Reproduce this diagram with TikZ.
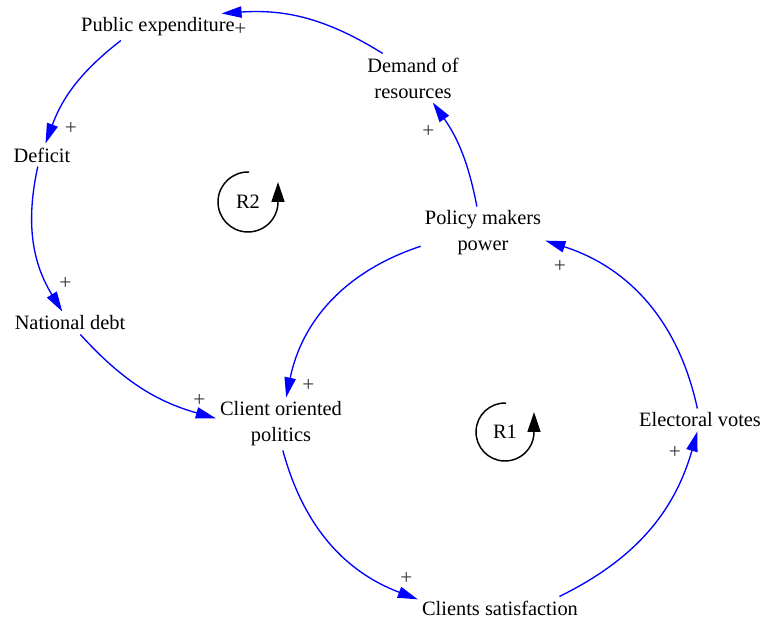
\documentclass[tikz,border=0pt]{standalone}
\usepackage{fontspec}
\setmainfont{Liberation Serif}
\usetikzlibrary{arrows.meta}

\begin{document}
\begin{tikzpicture}[x=0.75pt,y=0.75pt,
  var/.style={font=\fontsize{15.3}{19.5}\selectfont, inner sep=3pt, align=center},
  pol/.style={font=\fontsize{16}{19.5}\selectfont, text=black!80, inner sep=0pt},
  link/.style={blue, line width=1pt, -{Triangle[length=15pt,width=8.5pt]}},
  loopmark/.style={black, line width=1.1pt, -{Triangle[length=15pt,width=9.75pt]}}]
\useasboundingbox (0,0) rectangle (762,620);
% variables
\node[var] (pubexp) at (158,593) {Public expenditure};
\node[var] (demand) at (413,542) {Demand of\\resources};
\node[var] (deficit) at (42,465) {Deficit};
\node[var] (natdebt) at (70,297) {National debt};
\node[var] (client) at (281,196) {Client oriented\\politics};
\node[var] (policy) at (483,387) {Policy makers\\power};
\node[var] (electoral) at (700,200) {Electoral votes};
\node[var] (satisf) at (500,12) {Clients satisfaction};
% links
\draw[link] (demand.141) to[bend right=18] (pubexp.12);
\draw[link] (pubexp.-160) to[bend right=16] (deficit.73);
\draw[link] (deficit.-110) to[bend right=22] (natdebt.124);
\draw[link] (natdebt.-48) to[bend right=16] (client.175);
\draw[link] (policy.-168) to[bend right=30] (client.79);
\draw[link] (client.-86) to[bend right=27] (satisf.174);
\draw[link] (satisf.11) to[bend right=24] (electoral.-103);
\draw[link] (electoral.103) to[bend right=30] (policy.-7);
\draw[link] (policy.103) to[bend right=12] (demand.-51);
% polarities
\node[pol] (s1) at (240.5,590.5) {+};
\node[pol] (s2) at (71,492) {+};
\node[pol] (s3) at (65.5,337) {+};
\node[pol] (s4) at (199.5,219.5) {+};
\node[pol] (s5) at (308.5,235) {+};
\node[pol] (s6) at (406.5,41.5) {+};
\node[pol] (s7) at (675,168) {+};
\node[pol] (s8) at (560,353.5) {+};
\node[pol] (s9) at (428.5,488.5) {+};
% loops
\node[var] (r2) at (248,418) {R2};
\node[var] (r1) at (505,188) {R1};
\draw[loopmark] (r2) ++(88:30) arc[start angle=88, end angle=360, radius=30] -- ++(0,20);
\draw[loopmark] (r1) ++(88:29) arc[start angle=88, end angle=360, radius=29] -- ++(0,20);
\end{tikzpicture}
\end{document}
